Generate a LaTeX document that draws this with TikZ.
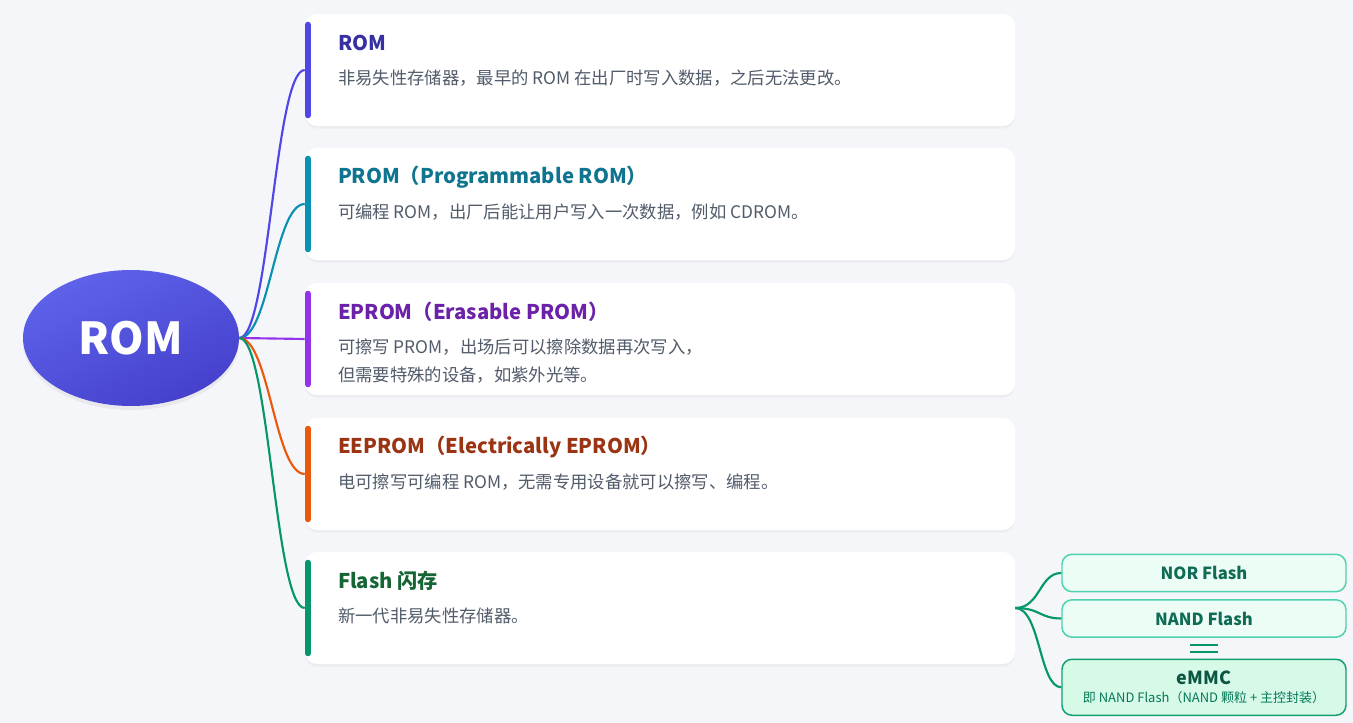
\documentclass[tikz,border=0pt]{standalone}
\usepackage{fontspec}
\setmainfont{Noto Sans CJK SC}
\usetikzlibrary{positioning,calc,shapes.geometric,shadows}
\definecolor{bgc}{HTML}{F5F6FA}
\definecolor{rootA}{HTML}{5E63EA}
\definecolor{rootB}{HTML}{4540CC}
\definecolor{dscc}{HTML}{515B6A}
\definecolor{romA}{HTML}{4F46E5}
\definecolor{romB}{HTML}{3730A3}
\definecolor{promA}{HTML}{0891B2}
\definecolor{promB}{HTML}{0E7490}
\definecolor{epromA}{HTML}{9333EA}
\definecolor{epromB}{HTML}{6B21A8}
\definecolor{eepromA}{HTML}{EA580C}
\definecolor{eepromB}{HTML}{9A3412}
\definecolor{flashA}{HTML}{059669}
\definecolor{flashB}{HTML}{166534}
\definecolor{subfill}{HTML}{ECFDF5}
\definecolor{subline}{HTML}{4FD1B0}
\definecolor{subtext}{HTML}{0F6B55}
\definecolor{emmcfill}{HTML}{D7FAE8}
\definecolor{emmcline}{HTML}{10A070}
\definecolor{emmctext}{HTML}{047857}

\begin{document}
\begin{tikzpicture}[x=0.75pt,y=-0.75pt,
  root/.style={ellipse, minimum width=162pt, minimum height=102pt, inner sep=0pt,
    top color=rootA, bottom color=rootB, shading angle=25, text=white,
    font=\fontsize{33}{38}\selectfont\bfseries,
    drop shadow={opacity=0.10, shadow xshift=0pt, shadow yshift=-3pt}},
  card/.style={fill=white, rounded corners=9pt, minimum width=532.5pt, minimum height=84pt,
    inner sep=0pt, drop shadow={opacity=0.07, shadow xshift=0pt, shadow yshift=-2pt}},
  bar/.style={draw=#1, line width=4.5pt, line cap=round},
  link/.style={draw=#1, line width=1.6pt},
  ttl/.style={text=#1, anchor=west, inner sep=0pt, font=\fontsize{15.2}{18}\selectfont\bfseries},
  dsc/.style={text=dscc, anchor=west, inner sep=0pt, font=\fontsize{13}{15}\selectfont},
  sub/.style={fill=subfill, draw=subline, line width=1.1pt, rounded corners=7.5pt,
    minimum width=213pt, minimum height=28pt, inner sep=0pt, text=subtext,
    font=\fontsize{12.5}{15}\selectfont\bfseries}]

\fill[bgc] (0,0) rectangle (1353,723);
\useasboundingbox (0,0) rectangle (1353,723);

\node[root] (rom) at (131,338) {ROM};

% cards
\node[card] (c1) at (660,70) {};
\node[card] (c2) at (660,204) {};
\node[card] (c3) at (660,339) {};
\node[card] (c4) at (660,474) {};
\node[card] (c5) at (660,608) {};

\draw[bar=romA] ($(c1.north west)+(3,11)$) -- ($(c1.south west)+(3,-11)$);
\draw[bar=promA] ($(c2.north west)+(3,11)$) -- ($(c2.south west)+(3,-11)$);
\draw[bar=epromA] ($(c3.north west)+(3,11)$) -- ($(c3.south west)+(3,-11)$);
\draw[bar=eepromA] ($(c4.north west)+(3,11)$) -- ($(c4.south west)+(3,-11)$);
\draw[bar=flashA] ($(c5.north west)+(3,11)$) -- ($(c5.south west)+(3,-11)$);

\node[ttl=romB] (t1) at ($(c1.north west)+(33,29)$) {ROM};
\node[dsc] (d1) at ($(c1.north west)+(33,64)$) {非易失性存储器，最早的 ROM 在出厂时写入数据，之后无法更改。};

\node[ttl=promB] (t2) at ($(c2.north west)+(33,29)$) {PROM（Programmable ROM）};
\node[dsc] (d2) at ($(c2.north west)+(33,64)$) {可编程 ROM，出厂后能让用户写入一次数据，例如 CDROM。};

\node[ttl=epromB] (t3) at ($(c3.north west)+(33,29)$) {EPROM（Erasable PROM）};
\node[dsc] (d3) at ($(c3.north west)+(33,64)$) {可擦写 PROM，出场后可以擦除数据再次写入，};
\node[dsc] (d3b) at ($(c3.north west)+(33,92)$) {但需要特殊的设备，如紫外光等。};

\node[ttl=eepromB] (t4) at ($(c4.north west)+(33,29)$) {EEPROM（Electrically EPROM）};
\node[dsc] (d4) at ($(c4.north west)+(33,64)$) {电可擦写可编程 ROM，无需专用设备就可以擦写、编程。};

\node[ttl=flashB] (t5) at ($(c5.north west)+(33,29)$) {Flash 闪存};
\node[dsc] (d5) at ($(c5.north west)+(33,64)$) {新一代非易失性存储器。};

% links from root
\draw[link=romA] (rom.east) .. controls +(30,0) and +(-30,0) .. (c1.west);
\draw[link=promA] (rom.east) .. controls +(30,0) and +(-30,0) .. (c2.west);
\draw[link=epromA] (rom.east) -- (c3.west);
\draw[link=eepromA] (rom.east) .. controls +(30,0) and +(-30,0) .. (c4.west);
\draw[link=flashA] (rom.east) .. controls +(30,0) and +(-30,0) .. (c5.west);

% flash kinds
\node[sub] (nor) at (1204,573) {NOR Flash};
\node[sub, below=5pt of nor] (nand) {NAND Flash};
\node[sub, below=15.5pt of nand, fill=emmcfill, draw=emmcline, minimum height=42pt, align=center, text=emmctext] (emmc)
  {{\fontsize{13.5}{15}\selectfont\bfseries\color{subtext!80!black}eMMC}\\[-1pt]
   {\fontsize{9.75}{12}\selectfont\mdseries 即 NAND Flash（NAND 颗粒 + 主控封装）}};

\draw[flashA, line width=1.9pt] ($(nand.south)+(-14,7)$) -- +(28,0);
\draw[flashA, line width=1.9pt] ($(nand.south)+(-14,14)$) -- +(28,0);

\draw[link=flashA] (c5.east) .. controls +(25,0) and +(-22,0) .. (nor.west);
\draw[link=flashA] (c5.east) .. controls +(25,0) and +(-22,0) .. (nand.west);
\draw[link=flashA] (c5.east) .. controls +(25,0) and +(-22,0) .. (emmc.west);

\end{tikzpicture}
\end{document}
